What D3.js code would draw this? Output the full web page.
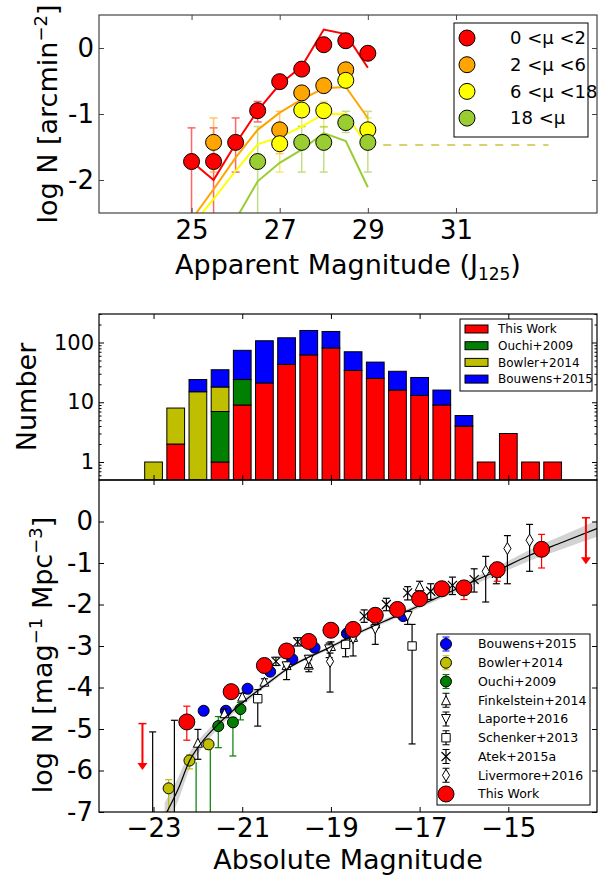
<!DOCTYPE html>
<html>
<head>
<meta charset="utf-8">
<script src="https://cdn.jsdelivr.net/npm/d3@7"></script>
<style>
  body { margin: 0; background: #fff; }
  text { font-family: "DejaVu Sans", sans-serif; }
</style>
</head>
<body>
<svg id="chart" width="598" height="875"></svg>
<script>
// ---------- top panel: counts per apparent magnitude, split by magnification ----------
const muLabels = ["0 <μ <2", "2 <μ <6", "6 <μ <18", "18 <μ"]
const muColors = ["#ff0000", "#ffa500", "#ffff00", "#9acd32"]

const mu1Mag = [25, 25.5, 26, 26.5, 27, 27.5, 28, 28.5, 29]
const mu1LogN = [-1.72, -1.72, -1.43, -0.95, -0.51, -0.32, 0.05, 0.11, -0.08]
const mu1Hi = [0.51, 0.51, 0.37, 0.14, 0.05, 0.04, 0.03, 0.03, 0.05]
const mu1Lo = [9, 9, 0.45, 0.17, 0.06, 0.05, 0.03, 0.03, 0.06]

const mu2Mag = [25.5, 27, 27.5, 28, 28.5]
const mu2LogN = [-1.43, -1.24, -0.68, -0.57, -0.33]
const mu2Hi = [0.37, 0.28, 0.08, 0.07, 0.06]
const mu2Lo = [0.45, 0.36, 0.1, 0.08, 0.07]

const mu3Mag = [27, 27.5, 28, 28.5, 29]
const mu3LogN = [-1.45, -0.94, -0.95, -0.49, -1.24]
const mu3Hi = [0.22, 0.14, 0.14, 0.08, 0.18]
const mu3Lo = [0.43, 0.25, 0.25, 0.1, 0.28]

const mu4Mag = [26.5, 27.5, 28, 28.5, 29]
const mu4LogN = [-1.72, -1.43, -1.43, -1.13, -1.43]
const mu4Hi = [0.53, 0.24, 0.24, 0.17, 0.47]
const mu4Lo = [9, 0.45, 0.45, 0.15, 0.45]

// model curves
const modelMag = [25, 25.5, 26, 26.5, 27, 27.5, 28, 28.5, 29]
const mu1Model = [-1.72, -2.0, -1.45, -0.95, -0.55, -0.28, 0.28, 0.21, -0.3]
const mu2Model = [-2.6, -2.14, -1.66, -1.24, -0.98, -0.78, -0.61, -0.59, -1.06]
const mu3Model = [-2.7, -2.29, -1.86, -1.46, -1.35, -1.19, -1.0, -1.0, -1.49]
const mu4ModelMag = [26, 26.5, 27, 27.5, 28, 28.5, 29]
const mu4Model = [-2.6, -2.02, -1.74, -1.54, -1.29, -1.41, -2.11]

const limitMag = [29.35, 33.1]
const limitLogN = -1.47

// ---------- middle panel: number of objects per absolute magnitude bin ----------
const absBins = [-23, -22.5, -22, -21.5, -21, -20.5, -20, -19.5, -19, -18.5, -18, -17.5, -17, -16.5, -16, -15.5, -15, -14.5, -14]
const nThisWork = [0, 2, 0, 1, 9, 21, 43, 62, 81, 34, 25, 16, 13, 9, 4, 1, 3, 1, 1]
const nOuchi =    [0, 0, 0, 6, 15, 0, 0, 0, 0, 0, 0, 0, 0, 0, 0, 0, 0, 0, 0]
const nBowler =   [1, 6, 15, 11, 0, 0, 0, 0, 0, 0, 0, 0, 0, 0, 0, 0, 0, 0, 0]
const nBouwens =  [0, 0, 9, 17, 50, 86, 77, 97, 72, 36, 22, 17, 13, 7, 2, 0, 0, 0, 0]
const histNames = ["This Work", "Ouchi+2009", "Bowler+2014", "Bouwens+2015"]
const histColors = ["#ff0000", "#008000", "#bfbf00", "#0000ff"]

// ---------- bottom panel: UV luminosity function ----------
const twMag = [-22.25, -21.25, -20.5, -20.0, -19.5, -19.0, -18.5, -18.0, -17.5, -17.0, -16.5, -16.0, -15.25, -14.25]
const twLogN = [-4.83, -4.10, -3.47, -3.12, -2.89, -2.62, -2.60, -2.26, -2.12, -1.86, -1.62, -1.60, -1.16, -0.67]
const twHi = [0.38, 0.08, 0.06, 0.05, 0.05, 0.05, 0.05, 0.06, 0.06, 0.07, 0.08, 0.1, 0.1, 0.36]
const twLo = [0.44, 0.1, 0.07, 0.06, 0.06, 0.06, 0.06, 0.07, 0.08, 0.09, 0.1, 0.28, 0.28, 0.45]
const twLimitMag = [-23.25, -13.25]
const twLimitLogN = [-4.87, 0.09]

const bouwensMag = [-21.87, -21.37, -20.88, -20.37, -19.87, -19.37, -18.64, -17.37]
const bouwensLogN = [-4.56, -4.56, -4.03, -3.62, -3.32, -3.04, -2.70, -2.28]
const bouwensErr = [0.1, 0.1, 0.08, 0.06, 0.05, 0.05, 0.05, 0.08]

const bowlerMag = [-22.66, -22.19, -21.76]
const bowlerLogN = [-6.43, -5.76, -5.37]
const bowlerHi = [0.21, 0.14, 0.08]
const bowlerLo = [9, 0.2, 0.12]

const ouchiMag = [-21.54, -21.21, -21.04]
const ouchiLogN = [-4.93, -4.84, -4.52]
const ouchiHi = [0.23, 0.12, 0.16]
const ouchiLo = [0.52, 0.81, 0.26]
// Ouchi bins whose points sit behind the Bowler markers: only the lower bars show
const ouchiBarMag = [-22.04, -21.72]
const ouchiBarTop = [-5.8, -5.45]

const finkMag = [-23.02, -22.53, -22.0, -21.4, -21.0, -20.5, -20.0, -19.5, -19.0, -18.5, -18.0, -17.5, -17.0]
const finkLogN = [-8, -8, -5.33, -4.62, -4.22, -3.86, -3.46, -3.45, -3.0, -2.78, -2.45, -2.12, -1.56]
const finkHi = [2.93, 3.21, 0.32, 0.1, 0.08, 0.07, 0.06, 0.12, 0.1, 0.1, 0.12, 0.14, 0.12]
const finkLo = [9, 9, 0.4, 0.1, 0.08, 0.07, 0.06, 0.17, 0.1, 0.1, 0.12, 0.14, 0.14]

const laporteMag = [-20.0, -19.5, -19.04, -18.5, -18.0, -17.27]
const laporteLogN = [-3.49, -3.33, -3.08, -2.84, -2.60, -2.28]
const laporteHi = [0.1, 0.1, 0.15, 0.15, 0.12, 0.12]
const laporteLo = [0.32, 0.19, 0.2, 0.4, 0.36, 0.2]

const schenkerMag = [-20.65, -18.67, -17.17]
const schenkerLogN = [-4.27, -2.96, -3.0]
const schenkerHi = [0.22, 0.3, 0.52]
const schenkerLo = [0.66, 0.3, 2.36]

const atekMag = [-20.24, -19.75, -18.25, -17.75, -17.27, -16.75, -16.26, -15.77, -15.27]
const atekLogN = [-3.37, -2.9, -2.28, -2.0, -1.72, -1.68, -1.54, -1.40, -1.25]
const atekHi = [0.1, 0.1, 0.15, 0.15, 0.15, 0.18, 0.2, 0.26, 0.2]
const atekLo = [0.1, 0.1, 0.15, 0.15, 0.17, 0.2, 0.22, 0.3, 0.25]

const livMag = [-19.02, -15.51, -15.02, -14.52]
const livLogN = [-3.37, -1.20, -0.65, -0.45]
const livHi = [0.2, 0.36, 0.31, 0.38]
const livLo = [0.74, 0.74, 0.85, 0.75]

// best fit curve and its uncertainty band
const fitMag = [-22.75, -22.45, -22.19, -21.89, -21.51, -20.91, -20.4, -19.94, -19.04, -18.29, -17.53, -16.78, -16.03, -15.28, -14.53, -13.78, -13.0]
const fitLogN = [-7.1, -6.46, -5.77, -5.29, -4.85, -4.29, -3.88, -3.52, -3.04, -2.64, -2.28, -1.92, -1.56, -1.2, -0.82, -0.5, -0.17]
const fitBand = [0.32, 0.28, 0.2, 0.14, 0.1, 0.07, 0.05, 0.04, 0.04, 0.04, 0.05, 0.06, 0.08, 0.1, 0.13, 0.16, 0.2]

const lfNames = ["Bouwens+2015", "Bowler+2014", "Ouchi+2009", "Finkelstein+2014", "Laporte+2016", "Schenker+2013", "Atek+2015a", "Livermore+2016", "This Work"]

// ---------- layout ----------
const svg = d3.select("#chart")
const L = 99, R = 597
const top1 = 15, bot1 = 213
const top2 = 314, bot2 = 480
const top3 = 480, bot3 = 812

const xApp = d3.scaleLinear().domain([22.9, 34.2]).range([L, R])
const yTop = d3.scaleLinear().domain([-2.5, 0.5]).range([bot1, top1])
const xAbs = d3.scaleLinear().domain([-24.23, -13.0]).range([L, R])
const yCount = d3.scaleLog().domain([0.5, 300]).range([bot2, top2])
const yLF = d3.scaleLinear().domain([-7, 1]).range([bot3, top3])

const defs = svg.append("defs")
function clip(id, y0, y1) {
    defs.append("clipPath").attr("id", id).append("rect")
        .attr("x", L).attr("y", y0).attr("width", R - L).attr("height", y1 - y0)
    return `url(#${id})`
}

// marker shapes (s = half size)
function marker(type, s) {
    if (type === "circle") return d3.symbol(d3.symbolCircle, Math.PI * s * s)()
    if (type === "tri") return `M0,${-s}L${s},${s}L${-s},${s}Z`
    if (type === "tridown") return `M0,${s}L${s},${-s}L${-s},${-s}Z`
    if (type === "square") return `M${-s},${-s}H${s}V${s}H${-s}Z`
    if (type === "diamond") return `M0,${-s}L${s * 0.6},0L0,${s}L${-s * 0.6},0Z`
    if (type === "x") return `M${-s},${-s}L${s},${s}M${-s},${s}L${s},${-s}`
}

// error bars + caps for one series
function errorBars(g, x, y, mags, vals, hi, lo, color, capHalf, lw, opacity) {
    const pts = mags.map((m, i) => ({ m, v: vals[i], hi: hi[i], lo: lo[i] }))
    const eg = g.append("g").attr("stroke", color).attr("stroke-width", lw).attr("opacity", opacity)
    eg.selectAll("line.bar").data(pts).join("line").attr("class", "bar")
        .attr("x1", d => x(d.m)).attr("x2", d => x(d.m))
        .attr("y1", d => y(d.v + d.hi)).attr("y2", d => y(d.v - d.lo))
    eg.selectAll("line.capHi").data(pts).join("line").attr("class", "capHi")
        .attr("x1", d => x(d.m) - capHalf).attr("x2", d => x(d.m) + capHalf)
        .attr("y1", d => y(d.v + d.hi)).attr("y2", d => y(d.v + d.hi))
    eg.selectAll("line.capLo").data(pts).join("line").attr("class", "capLo")
        .attr("x1", d => x(d.m) - capHalf).attr("x2", d => x(d.m) + capHalf)
        .attr("y1", d => y(d.v - d.lo)).attr("y2", d => y(d.v - d.lo))
}

function markers(g, x, y, mags, vals, type, s, fill, stroke, sw) {
    g.append("g").selectAll("path").data(mags.map((m, i) => [m, vals[i]])).join("path")
        .attr("d", marker(type, s))
        .attr("transform", d => `translate(${x(d[0])},${y(d[1])})`)
        .attr("fill", fill).attr("stroke", stroke).attr("stroke-width", sw)
}

// frame with inward ticks on all four sides
function frame(x, y, y0, y1, o) {
    const g = svg.append("g")
    const ax = g.append("g").attr("transform", `translate(0,${y1})`)
        .call(d3.axisBottom(x).tickValues(o.xTicks).tickSize(-o.tick).tickPadding(o.xPad)
            .tickFormat(o.xLabels ? o.xFormat : ""))
    g.append("g").attr("transform", `translate(0,${y0})`)
        .call(d3.axisTop(x).tickValues(o.xTicks).tickSize(-o.tick).tickFormat(""))
    const ay = g.append("g").attr("transform", `translate(${L},0)`)
        .call(d3.axisLeft(y).tickValues(o.yTicks).tickSize(-o.tick).tickPadding(o.yPad).tickFormat(o.yFormat))
    g.append("g").attr("transform", `translate(${R},0)`)
        .call(d3.axisRight(y).tickValues(o.yTicks).tickSize(-o.tick).tickFormat(""))
    if (o.minor) {
        g.append("g").attr("transform", `translate(${L},0)`)
            .call(d3.axisLeft(y).tickValues(o.minor).tickSize(-2.5).tickFormat(""))
        g.append("g").attr("transform", `translate(${R},0)`)
            .call(d3.axisRight(y).tickValues(o.minor).tickSize(-2.5).tickFormat(""))
    }
    g.selectAll(".domain").remove()
    g.selectAll(".tick line").attr("stroke", o.color).attr("stroke-width", 1)
    ax.selectAll("text").attr("font-size", o.xFont).attr("fill", "#000")
    ay.selectAll("text").attr("font-size", o.yFont).attr("fill", "#000")
    g.append("rect").attr("x", L).attr("y", y0).attr("width", R - L).attr("height", y1 - y0)
        .attr("fill", "none").attr("stroke", o.color).attr("stroke-width", 1.2)
}

// ================= TOP PANEL =================
const gTop = svg.append("g").attr("clip-path", clip("clipTop", top1, bot1))
const topSeries = [
    [mu1Mag, mu1LogN, mu1Hi, mu1Lo, modelMag, mu1Model],
    [mu2Mag, mu2LogN, mu2Hi, mu2Lo, modelMag, mu2Model],
    [mu3Mag, mu3LogN, mu3Hi, mu3Lo, modelMag, mu3Model],
    [mu4Mag, mu4LogN, mu4Hi, mu4Lo, mu4ModelMag, mu4Model]
]
const topLine = d3.line()

topSeries.forEach((s, k) => {
    errorBars(gTop, xApp, yTop, s[0], s[1], s[2], s[3], muColors[k] === "#ffff00" ? "#e8e020" : muColors[k], 4, 1.5, 0.6)
})
topSeries.forEach((s, k) => {
    gTop.append("path")
        .attr("d", topLine(s[4].map((m, i) => [xApp(m), yTop(s[5][i])])))
        .attr("fill", "none").attr("stroke", muColors[k]).attr("stroke-width", 2)
})
gTop.append("line")
    .attr("x1", xApp(limitMag[0])).attr("x2", xApp(limitMag[1]))
    .attr("y1", yTop(limitLogN)).attr("y2", yTop(limitLogN))
    .attr("stroke", "#c9c33c").attr("stroke-width", 1.6).attr("stroke-dasharray", "8,8")
topSeries.forEach((s, k) => {
    markers(gTop, xApp, yTop, s[0], s[1], "circle", 8, muColors[k], "#000", 1)
})

frame(xApp, yTop, top1, bot1, {
    xTicks: [25, 27, 29, 31], xLabels: true, xFormat: d3.format("d"), xPad: 8, xFont: 26,
    yTicks: [0, -1, -2], yFormat: d => d === 0 ? "0" : "-" + Math.abs(d), yPad: 5, yFont: 26,
    tick: 5, color: "#444"
})

// top legend
const lg1 = svg.append("g")
lg1.append("rect").attr("x", 454).attr("y", 23).attr("width", 134).attr("height", 114)
    .attr("fill", "#fff").attr("stroke", "#000").attr("stroke-width", 1)
muLabels.forEach((t, i) => {
    const yy = 38 + i * 26.7
    lg1.append("path").attr("d", marker("circle", 8)).attr("transform", `translate(467,${yy})`)
        .attr("fill", muColors[i]).attr("stroke", "#000")
    lg1.append("text").attr("x", 510).attr("y", yy).attr("dy", "0.35em")
        .attr("font-size", 18).text(t)
})

// axis titles
const tTop = svg.append("text").attr("transform", "translate(57,114) rotate(-90)")
    .attr("text-anchor", "middle").attr("font-size", 27)
tTop.append("tspan").text("log N [arcmin")
tTop.append("tspan").attr("baseline-shift", "super").attr("font-size", 18).text("−2")
tTop.append("tspan").text("]")

const tApp = svg.append("text").attr("x", 348).attr("y", 274).attr("text-anchor", "middle").attr("font-size", 27)
tApp.append("tspan").text("Apparent Magnitude (J")
tApp.append("tspan").attr("baseline-shift", "-6").attr("font-size", 17).text("125")
tApp.append("tspan").text(")")

// ================= MIDDLE PANEL =================
const gMid = svg.append("g").attr("clip-path", clip("clipMid", top2, bot2))
const stackRows = absBins.map((b, i) => ({ bin: b, tw: nThisWork[i], ou: nOuchi[i], bo: nBowler[i], bw: nBouwens[i] }))
const stacked = d3.stack().keys(["tw", "ou", "bo", "bw"])(stackRows)
const barW = xAbs(0.4) - xAbs(0)

stacked.forEach((layer, k) => {
    gMid.append("g").selectAll("rect").data(layer.filter(d => d[1] > d[0])).join("rect")
        .attr("x", d => xAbs(d.data.bin) - barW / 2)
        .attr("width", barW)
        .attr("y", d => yCount(d[1]))
        .attr("height", d => yCount(Math.max(d[0], 0.5)) - yCount(d[1]))
        .attr("fill", histColors[k]).attr("stroke", "#000").attr("stroke-width", 1)
})

const minorCounts = [0.6, 0.7, 0.8, 0.9, 2, 3, 4, 5, 6, 7, 8, 9, 20, 30, 40, 50, 60, 70, 80, 90, 200, 300]
frame(xAbs, yCount, top2, bot2, {
    xTicks: [-23, -21, -19, -17, -15], xLabels: false, xPad: 0, xFont: 0,
    yTicks: [1, 10, 100], yFormat: d3.format("d"), yPad: 5, yFont: 21,
    tick: 5, color: "#000", minor: minorCounts
})

const lg2 = svg.append("g")
lg2.append("rect").attr("x", 460).attr("y", 319).attr("width", 132).attr("height", 72)
    .attr("fill", "#fff").attr("stroke", "#000").attr("stroke-width", 1)
histNames.forEach((t, i) => {
    const yy = 329 + i * 16.7
    lg2.append("rect").attr("x", 465).attr("y", yy - 4).attr("width", 23).attr("height", 8)
        .attr("fill", histColors[i]).attr("stroke", "#000")
    lg2.append("text").attr("x", 498).attr("y", yy).attr("dy", "0.35em").attr("font-size", 12).text(t)
})

svg.append("text").attr("transform", "translate(36,397) rotate(-90)")
    .attr("text-anchor", "middle").attr("font-size", 27).text("Number")

// ================= BOTTOM PANEL =================
const gLF = svg.append("g").attr("clip-path", clip("clipLF", top3, bot3))

// uncertainty band + fit
const fitPts = fitMag.map((m, i) => ({ m, v: fitLogN[i], b: fitBand[i] }))
gLF.append("path")
    .attr("d", d3.area().curve(d3.curveMonotoneX)
        .x(d => xAbs(d.m)).y0(d => yLF(d.v - d.b)).y1(d => yLF(d.v + d.b))(fitPts))
    .attr("fill", "#c8c8c8").attr("opacity", 0.8)

// literature points
gLF.append("g").selectAll("line").data(ouchiBarMag.map((m, i) => [m, ouchiBarTop[i]])).join("line")
    .attr("x1", d => xAbs(d[0])).attr("x2", d => xAbs(d[0]))
    .attr("y1", d => yLF(d[1])).attr("y2", bot3 + 5)
    .attr("stroke", "#008000").attr("stroke-width", 1.2)
errorBars(gLF, xAbs, yLF, ouchiMag, ouchiLogN, ouchiHi, ouchiLo, "#008000", 3.5, 1.2, 1)
markers(gLF, xAbs, yLF, ouchiMag, ouchiLogN, "circle", 5.5, "#008000", "#000", 1)
errorBars(gLF, xAbs, yLF, bouwensMag, bouwensLogN, bouwensErr, bouwensErr, "#0000ff", 3.5, 1.2, 1)
markers(gLF, xAbs, yLF, bouwensMag, bouwensLogN, "circle", 5.5, "#0000ff", "#000", 1)
errorBars(gLF, xAbs, yLF, bowlerMag, bowlerLogN, bowlerHi, bowlerLo, "#bfbf00", 3.5, 1.2, 1)
markers(gLF, xAbs, yLF, bowlerMag, bowlerLogN, "circle", 5.5, "#bfbf00", "#000", 1)

errorBars(gLF, xAbs, yLF, finkMag, finkLogN, finkHi, finkLo, "#000", 3.5, 1.2, 1)
markers(gLF, xAbs, yLF, finkMag, finkLogN, "tri", 4.5, "#fff", "#000", 1)
errorBars(gLF, xAbs, yLF, laporteMag, laporteLogN, laporteHi, laporteLo, "#000", 3.5, 1.2, 1)
markers(gLF, xAbs, yLF, laporteMag, laporteLogN, "tridown", 4.5, "#fff", "#000", 1)
errorBars(gLF, xAbs, yLF, schenkerMag, schenkerLogN, schenkerHi, schenkerLo, "#000", 3.5, 1.2, 1)
markers(gLF, xAbs, yLF, schenkerMag, schenkerLogN, "square", 4.2, "#fff", "#000", 1)
errorBars(gLF, xAbs, yLF, atekMag, atekLogN, atekHi, atekLo, "#000", 3.5, 1.2, 1)
markers(gLF, xAbs, yLF, atekMag, atekLogN, "x", 4.5, "none", "#000", 1.2)
errorBars(gLF, xAbs, yLF, livMag, livLogN, livHi, livLo, "#000", 3.5, 1.2, 1)
markers(gLF, xAbs, yLF, livMag, livLogN, "diamond", 6, "#fff", "#000", 1)

gLF.append("path")
    .attr("d", d3.line().curve(d3.curveMonotoneX).x(d => xAbs(d.m)).y(d => yLF(d.v))(fitPts))
    .attr("fill", "none").attr("stroke", "#000").attr("stroke-width", 1.2)

// this work: points and upper limits
errorBars(gLF, xAbs, yLF, twMag, twLogN, twHi, twLo, "#ff0000", 3.5, 1.2, 1)
twLimitMag.forEach((m, i) => {
    const yTopL = yLF(twLimitLogN[i]), yTip = yLF(twLimitLogN[i] - 1.12)
    gLF.append("line").attr("x1", xAbs(m) - 4).attr("x2", xAbs(m) + 4).attr("y1", yTopL).attr("y2", yTopL)
        .attr("stroke", "#ff0000").attr("stroke-width", 1.5)
    gLF.append("line").attr("x1", xAbs(m)).attr("x2", xAbs(m)).attr("y1", yTopL).attr("y2", yTip - 6)
        .attr("stroke", "#ff0000").attr("stroke-width", 2)
    gLF.append("path").attr("d", `M${xAbs(m) - 5},${yTip - 7}L${xAbs(m) + 5},${yTip - 7}L${xAbs(m)},${yTip}Z`)
        .attr("fill", "#ff0000")
})
markers(gLF, xAbs, yLF, twMag, twLogN, "circle", 8, "#ff0000", "#000", 1)

frame(xAbs, yLF, top3, bot3, {
    xTicks: [-23, -21, -19, -17, -15], xLabels: true, xFormat: d => "−" + Math.abs(d), xPad: 7, xFont: 26,
    yTicks: [0, -1, -2, -3, -4, -5, -6, -7], yFormat: d => d === 0 ? "0" : "-" + Math.abs(d), yPad: 6, yFont: 26,
    tick: 5, color: "#000"
})

// bottom legend
const lg3 = svg.append("g")
lg3.append("rect").attr("x", 437).attr("y", 634).attr("width", 153).attr("height", 171)
    .attr("fill", "#fff").attr("stroke", "#000").attr("stroke-width", 1)
const lfStyle = [
    ["circle", 5.5, "#0000ff", "#0000ff"], ["circle", 5.5, "#bfbf00", "#bfbf00"], ["circle", 5.5, "#008000", "#008000"],
    ["tri", 4.5, "#fff", "#000"], ["tridown", 4.5, "#fff", "#000"], ["square", 4.2, "#fff", "#000"],
    ["x", 4.5, "none", "#000"], ["diamond", 6, "#fff", "#000"], ["circle", 8, "#ff0000", "#ff0000"]
]
lfNames.forEach((t, i) => {
    const yy = 644 + i * 18.75
    const st = lfStyle[i]
    if (i < 8) {
        lg3.append("line").attr("x1", 446).attr("x2", 446).attr("y1", yy - 7).attr("y2", yy + 7)
            .attr("stroke", st[3]).attr("stroke-width", 1.2)
        lg3.append("line").attr("x1", 442.5).attr("x2", 449.5).attr("y1", yy - 7).attr("y2", yy - 7).attr("stroke", st[3])
        lg3.append("line").attr("x1", 442.5).attr("x2", 449.5).attr("y1", yy + 7).attr("y2", yy + 7).attr("stroke", st[3])
    }
    lg3.append("path").attr("d", marker(st[0], st[1])).attr("transform", `translate(446,${yy})`)
        .attr("fill", st[2]).attr("stroke", "#000").attr("stroke-width", st[0] === "x" ? 1.2 : 1)
    lg3.append("text").attr("x", 478).attr("y", yy).attr("dy", "0.35em").attr("font-size", 12.5).text(t)
})

const tLF = svg.append("text").attr("transform", "translate(52,655) rotate(-90)")
    .attr("text-anchor", "middle").attr("font-size", 27)
tLF.append("tspan").text("log N [mag")
tLF.append("tspan").attr("baseline-shift", "super").attr("font-size", 18).text("−1")
tLF.append("tspan").text(" Mpc")
tLF.append("tspan").attr("baseline-shift", "super").attr("font-size", 18).text("−3")
tLF.append("tspan").text("]")

svg.append("text").attr("x", 348).attr("y", 869).attr("text-anchor", "middle")
    .attr("font-size", 27).text("Absolute Magnitude")
</script>
</body>
</html>
